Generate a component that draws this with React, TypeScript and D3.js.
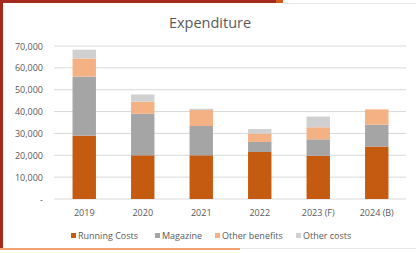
import React from "react";
import * as d3 from "d3";

const categories = ["2019", "2020", "2021", "2022", "2023 (F)", "2024 (B)"];
const seriesNames = ["Running Costs", "Magazine", "Other benefits", "Other costs"];
const runningCosts = [29000, 20000, 20000, 21500, 19800, 24000];
const magazine = [27000, 19000, 13400, 4600, 7500, 10000];
const otherBenefits = [8300, 5500, 7300, 3800, 5500, 7000];
const otherCosts = [4000, 3300, 600, 2100, 4900, 0];
const yTicks = [0, 10000, 20000, 30000, 40000, 50000, 60000, 70000];
const colors = ["#C55A11", "#A5A5A5", "#F4B183", "#D0D0D0"];

export default function App() {
  const W = 416, H = 253;
  const x = d3.scaleBand<string>().domain(categories).range([55, 406]).paddingInner(0.6).paddingOuter(0.3);
  const y = d3.scaleLinear().domain([0, 70000]).range([199, 46]);
  const rows = categories.map((c, i) => ({
    cat: c,
    "Running Costs": runningCosts[i],
    Magazine: magazine[i],
    "Other benefits": otherBenefits[i],
    "Other costs": otherCosts[i],
  }));
  const stacked = d3.stack<any>().keys(seriesNames)(rows);
  const fmt = d3.format(",");
  const font = "'Open Sans', 'Noto Sans', sans-serif";
  const legendX = [71, 155, 215, 296];
  return (
    <svg width={W} height={H} style={{ position: "absolute", left: 0, top: 0, background: "#fff" }} fontFamily={font}>
      <rect x={0} y={0} width={W} height={H} fill="#fff" />
      {/* frame */}
      <rect x={0} y={0} width={276} height={3} fill="#A52A1E" />
      <rect x={276} y={0} width={7} height={3} fill="#D35D1E" />
      <rect x={283} y={3} width={133} height={1} fill="#E6E6E6" />
      <rect x={0} y={0} width={3} height={250} fill="#A52A1E" />
      <rect x={0} y={248} width={240} height={2} fill="#F0A070" />
      <rect x={240} y={248} width={176} height={1} fill="#E6E6E6" />
      <text x={210} y={28} textAnchor="middle" fontSize={14.5} fill="#595959">Expenditure</text>
      {yTicks.map((t) => (
        <g key={t}>
          <line x1={54} x2={406} y1={y(t)} y2={y(t)} stroke="#D9D9D9" strokeWidth={1} />
          <text x={43} y={y(t) + 3.5} textAnchor="end" fontSize={9} fill="#595959">
            {t === 0 ? "-" : fmt(t)}
          </text>
        </g>
      ))}
      {stacked.map((s, si) => (
        <g key={s.key} fill={colors[si]}>
          {s.map((d, i) => (
            <rect
              key={i}
              x={x(categories[i])}
              width={x.bandwidth()}
              y={y(d[1])}
              height={Math.max(0, y(d[0]) - y(d[1]))}
            />
          ))}
        </g>
      ))}
      {categories.map((c) => (
        <text key={c} x={(x(c) as number) + x.bandwidth() / 2} y={216} textAnchor="middle" fontSize={9} fill="#595959">
          {c}
        </text>
      ))}
      {seriesNames.map((n, i) => (
        <g key={n}>
          <rect x={legendX[i]} y={233} width={5} height={5} fill={colors[i]} />
          <text x={legendX[i] + 7} y={238.5} fontSize={9} fill="#595959">{n}</text>
        </g>
      ))}
    </svg>
  );
}
